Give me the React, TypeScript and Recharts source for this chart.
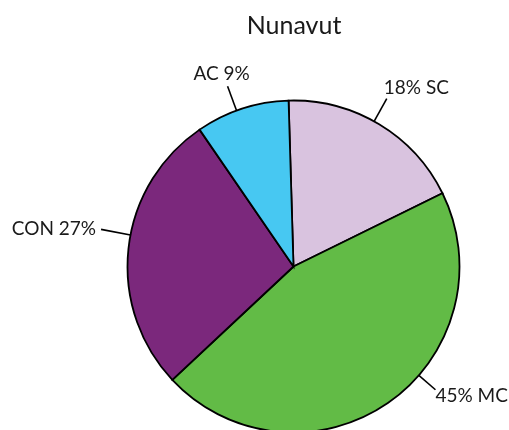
import { PieChart, Pie, Cell } from 'recharts'

const categories = ['SC', 'MC', 'CON', 'AC']
const shares = [18.2, 45.3, 27.4, 9.1]
const colors = ['#d9c3df', '#62bb46', '#7b287c', '#47c8f2']

// hand placement of each callout, same order as categories
const callouts = [
  { angle: 2, len: 26, anchor: 'start', dx: -3, dy: -5, pctFirst: true },
  { angle: 14.4, len: 22, anchor: 'start', dx: 0, dy: 12, pctFirst: true },
  { angle: -4.7, len: 30, anchor: 'end', dx: -5, dy: 6, pctFirst: false },
  { angle: 2, len: 26, anchor: 'middle', dx: -6, dy: -6, pctFirst: false },
]

const FONT = 'Lato, "Open Sans", sans-serif'
const RAD = Math.PI / 180

const rows = categories.map((name, i) => ({ name, value: shares[i] }))

function Callout(props: any) {
  const { cx, cy, midAngle, outerRadius, index, name, value } = props
  const c = callouts[index]
  const a = (midAngle + c.angle) * RAD
  const x1 = cx + outerRadius * Math.cos(a)
  const y1 = cy - outerRadius * Math.sin(a)
  const x2 = cx + (outerRadius + c.len) * Math.cos(a)
  const y2 = cy - (outerRadius + c.len) * Math.sin(a)
  const pct = Math.round(value) + '%'
  const text = c.pctFirst ? `${pct} ${name}` : `${name} ${pct}`
  return (
    <g>
      <line x1={x1} y1={y1} x2={x2} y2={y2} stroke="#000" strokeWidth={1.6} />
      <text
        x={x2 + c.dx}
        y={y2 + c.dy}
        textAnchor={c.anchor}
        fontSize={19}
        fontFamily={FONT}
        fill="#1a1a1a"
      >
        {text}
      </text>
    </g>
  )
}

export default function App() {
  return (
    <div style={{ position: 'fixed', left: 0, top: 0, width: 509, height: 430, overflow: 'hidden' }}>
      <div
        style={{
          position: 'absolute',
          left: 0,
          top: 8,
          width: 588,
          textAlign: 'center',
          fontFamily: FONT,
          fontSize: 25,
          color: '#1a1a1a',
          lineHeight: '32px',
        }}
      >
        Nunavut
      </div>
      <PieChart
        width={509}
        height={430}
        margin={{ top: 0, right: 0, bottom: 0, left: 0 }}
        style={{ position: 'absolute', left: 0, top: 0 }}
      >
        <Pie
          data={rows}
          dataKey="value"
          nameKey="name"
          cx={293.5}
          cy={266.5}
          outerRadius={166}
          startAngle={91.7}
          endAngle={-268.3}
          stroke="#000"
          strokeWidth={1.8}
          label={Callout}
          labelLine={false}
          isAnimationActive={false}
        >
          {rows.map((r, i) => (
            <Cell key={r.name} fill={colors[i]} />
          ))}
        </Pie>
      </PieChart>
    </div>
  )
}
